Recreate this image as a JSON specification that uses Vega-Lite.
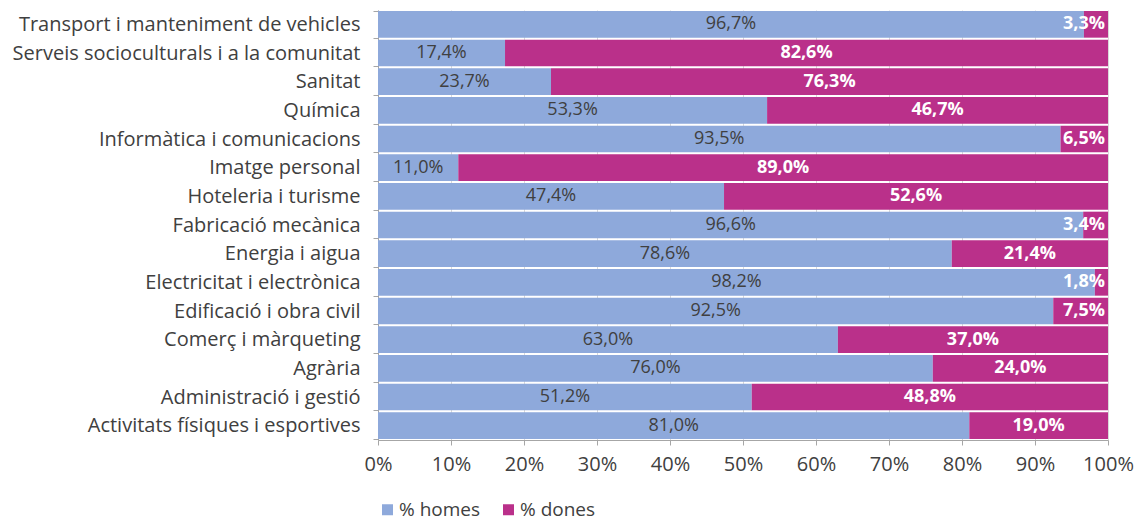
{
  "$schema": "https://vega.github.io/schema/vega-lite/v6.json",
  "width": 730,
  "height": 430,
  "padding": {"left": 5, "top": 0, "right": 5, "bottom": 3},
  "background": "white",
  "config": {
    "locale": {"number": {"decimal": ",", "thousands": ".", "grouping": [3], "currency": ["", " €"]}},
    "font": "Open Sans",
    "view": {"stroke": null}
  },
  "data": {
    "values": [
      {"cat": "Transport i manteniment de vehicles", "gender": "% homes", "value": 0.967},
      {"cat": "Transport i manteniment de vehicles", "gender": "% dones", "value": 0.033},
      {"cat": "Serveis socioculturals i a la comunitat", "gender": "% homes", "value": 0.174},
      {"cat": "Serveis socioculturals i a la comunitat", "gender": "% dones", "value": 0.826},
      {"cat": "Sanitat", "gender": "% homes", "value": 0.237},
      {"cat": "Sanitat", "gender": "% dones", "value": 0.763},
      {"cat": "Química", "gender": "% homes", "value": 0.533},
      {"cat": "Química", "gender": "% dones", "value": 0.467},
      {"cat": "Informàtica i comunicacions", "gender": "% homes", "value": 0.935},
      {"cat": "Informàtica i comunicacions", "gender": "% dones", "value": 0.065},
      {"cat": "Imatge personal", "gender": "% homes", "value": 0.110},
      {"cat": "Imatge personal", "gender": "% dones", "value": 0.890},
      {"cat": "Hoteleria i turisme", "gender": "% homes", "value": 0.474},
      {"cat": "Hoteleria i turisme", "gender": "% dones", "value": 0.526},
      {"cat": "Fabricació mecànica", "gender": "% homes", "value": 0.966},
      {"cat": "Fabricació mecànica", "gender": "% dones", "value": 0.034},
      {"cat": "Energia i aigua", "gender": "% homes", "value": 0.786},
      {"cat": "Energia i aigua", "gender": "% dones", "value": 0.214},
      {"cat": "Electricitat i electrònica", "gender": "% homes", "value": 0.982},
      {"cat": "Electricitat i electrònica", "gender": "% dones", "value": 0.018},
      {"cat": "Edificació i obra civil", "gender": "% homes", "value": 0.925},
      {"cat": "Edificació i obra civil", "gender": "% dones", "value": 0.075},
      {"cat": "Comerç i màrqueting", "gender": "% homes", "value": 0.630},
      {"cat": "Comerç i màrqueting", "gender": "% dones", "value": 0.370},
      {"cat": "Agrària", "gender": "% homes", "value": 0.760},
      {"cat": "Agrària", "gender": "% dones", "value": 0.240},
      {"cat": "Administració i gestió", "gender": "% homes", "value": 0.512},
      {"cat": "Administració i gestió", "gender": "% dones", "value": 0.488},
      {"cat": "Activitats físiques i esportives", "gender": "% homes", "value": 0.810},
      {"cat": "Activitats físiques i esportives", "gender": "% dones", "value": 0.190}
    ]
  },
  "transform": [
    {"stack": "value", "groupby": ["cat"], "sort": [{"field": "gender", "order": "descending"}], "as": ["v0", "v1"]},
    {"calculate": "(datum.v0 + datum.v1) / 2", "as": "mid"}
  ],
  "encoding": {
    "y": {
      "field": "cat",
      "type": "nominal",
      "sort": null,
      "title": null,
      "scale": {"paddingInner": 0.07, "paddingOuter": 0.035},
      "axis": {
        "labelFontSize": 20,
        "labelColor": "#404040",
        "labelPadding": 13,
        "tickBand": "extent",
        "tickSize": 5,
        "tickColor": "#a6a6a6",
        "domainColor": "#a6a6a6",
        "minExtent": 373,
        "maxExtent": 373,
        "labelLimit": 400
      }
    }
  },
  "layer": [
    {
      "mark": {"type": "bar"},
      "encoding": {
        "x": {
          "field": "v0",
          "type": "quantitative",
          "scale": {"domain": [0, 1], "nice": false},
          "title": null,
          "axis": {
            "format": ".0%",
            "values": [0, 0.1, 0.2, 0.3, 0.4, 0.5, 0.6, 0.7, 0.8, 0.9, 1],
            "labelFontSize": 20,
            "labelColor": "#404040",
            "labelPadding": 9,
            "tickSize": 5,
            "tickColor": "#a6a6a6",
            "domainColor": "#a6a6a6",
            "gridColor": "#d9d9d9",
            "grid": true,
            "labelFlush": false
          }
        },
        "x2": {"field": "v1"},
        "color": {
          "field": "gender",
          "type": "nominal",
          "scale": {"domain": ["% homes", "% dones"], "range": ["#8EA9DB", "#BA308A"]},
          "legend": {
            "title": null,
            "orient": "bottom",
            "direction": "horizontal",
            "symbolType": "square",
            "symbolSize": 121,
            "symbolStrokeWidth": 0,
            "labelFontSize": 19,
            "labelColor": "#404040",
            "offset": 26,
            "columnPadding": 18,
            "labelOffset": 2
          }
        }
      }
    },
    {
      "transform": [{"filter": "datum.gender === '% homes'"}],
      "mark": {"type": "text", "fontSize": 18, "color": "#404040", "baseline": "middle", "align": "center"},
      "encoding": {
        "x": {"field": "mid", "type": "quantitative"},
        "text": {"field": "value", "type": "quantitative", "format": ".1%"}
      }
    },
    {
      "transform": [{"filter": "datum.gender === '% dones' && datum.value >= 0.1"}],
      "mark": {"type": "text", "fontSize": 18, "fontWeight": "bold", "color": "white", "baseline": "middle", "align": "center"},
      "encoding": {
        "x": {"field": "mid", "type": "quantitative"},
        "text": {"field": "value", "type": "quantitative", "format": ".1%"}
      }
    },
    {
      "transform": [{"filter": "datum.gender === '% dones' && datum.value < 0.1"}],
      "mark": {"type": "text", "fontSize": 18, "fontWeight": "bold", "color": "white", "baseline": "middle", "align": "right", "dx": -3},
      "encoding": {
        "x": {"field": "v1", "type": "quantitative"},
        "text": {"field": "value", "type": "quantitative", "format": ".1%"}
      }
    }
  ]
}
